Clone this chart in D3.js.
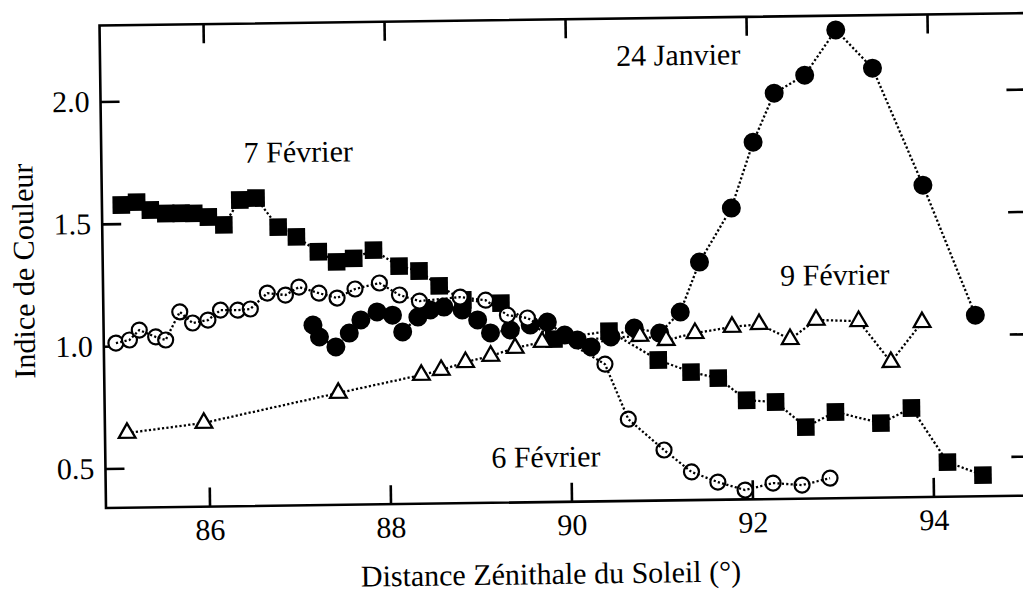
<!DOCTYPE html>
<html>
<head>
<meta charset="utf-8">
<script src="https://cdn.jsdelivr.net/npm/d3@7"></script>
<style>
  html, body { margin: 0; padding: 0; background: #fff; }
  svg { display: block; }
</style>
</head>
<body>
<svg id="chart" width="1023" height="600"></svg>
<script>
// Indice de couleur en fonction de la distance zénithale du Soleil

// 24 janvier : cercles pleins
const jan24 = [
  [87.17, 1.075], [87.24, 1.026], [87.42, 0.984], [87.57, 1.040], [87.70, 1.093],
  [87.88, 1.125], [88.05, 1.111], [88.16, 1.042], [88.33, 1.102], [88.47, 1.130],
  [88.62, 1.141], [88.82, 1.128], [88.99, 1.087], [89.13, 1.033], [89.35, 1.044],
  [89.57, 1.063], [89.76, 1.074], [89.95, 1.020], [90.09, 0.999], [90.24, 0.970],
  [90.46, 1.010], [90.72, 1.045], [91.00, 1.023], [91.23, 1.108], [91.45, 1.311],
  [91.81, 1.530], [92.06, 1.798], [92.30, 1.997], [92.64, 2.069], [92.99, 2.252],
  [93.39, 2.094], [93.93, 1.613], [94.49, 1.079]
];

// 7 février : carrés pleins
const feb7 = [
  [85.07, 1.576], [85.24, 1.587], [85.39, 1.554], [85.56, 1.539], [85.73, 1.539],
  [85.87, 1.538], [86.03, 1.522], [86.20, 1.489], [86.38, 1.590], [86.56, 1.597],
  [86.80, 1.477], [87.00, 1.436], [87.24, 1.374], [87.44, 1.332], [87.63, 1.345],
  [87.85, 1.378], [88.13, 1.311], [88.35, 1.290], [88.57, 1.228], [88.83, 1.169],
  [89.25, 1.154], [89.83, 1.004], [90.44, 1.034], [90.98, 0.913], [91.34, 0.862],
  [91.64, 0.836], [91.95, 0.744], [92.27, 0.735], [92.60, 0.631], [92.93, 0.691],
  [93.43, 0.643], [93.77, 0.703], [94.16, 0.480], [94.55, 0.425]
];

// 6 février : cercles ouverts
const feb6 = [
  [84.99, 1.012], [85.14, 1.024], [85.25, 1.064], [85.43, 1.035], [85.54, 1.022],
  [85.70, 1.136], [85.84, 1.090], [86.01, 1.101], [86.15, 1.141], [86.34, 1.140],
  [86.48, 1.144], [86.67, 1.208], [86.87, 1.199], [87.02, 1.231], [87.24, 1.205],
  [87.44, 1.184], [87.64, 1.220], [87.91, 1.243], [88.13, 1.193], [88.35, 1.167],
  [88.80, 1.181], [89.08, 1.167], [89.32, 1.105], [89.54, 1.092], [90.39, 0.899],
  [90.64, 0.673], [91.03, 0.545], [91.33, 0.454], [91.62, 0.411], [91.92, 0.377],
  [92.23, 0.404], [92.55, 0.394], [92.86, 0.421]
];

// 9 février : triangles ouverts
const feb9 = [
  [85.10, 0.644], [85.95, 0.681], [87.44, 0.796], [88.36, 0.865], [88.58, 0.884],
  [88.85, 0.915], [89.13, 0.939], [89.40, 0.970], [89.70, 0.993], [90.78, 1.012],
  [91.07, 0.994], [91.39, 1.021], [91.80, 1.044], [92.10, 1.054], [92.44, 0.991],
  [92.73, 1.068], [93.20, 1.061], [93.55, 0.892], [93.90, 1.053]
];

const xTicks = [86, 88, 90, 92, 94];
const yTicks = [0.5, 1.0, 1.5, 2.0];
const xTitle = "Distance Zénithale du Soleil (°)";
const yTitle = "Indice de Couleur";

// étiquettes des séries : [texte, x, y] en unités des axes
const seriesLabels = [
  ["24 Janvier", 90.56, 2.117],
  ["7 Février", 86.43, 1.742],
  ["9 Février", 92.34, 1.210],
  ["6 Février", 89.12, 0.482]
];

const serif = "'Liberation Serif'";
const svg = d3.select("#chart");
const mLeft = 106, mRight = 1031, mTop = 25.5, mBottom = 508;
const tickLen = 19;
const fs = "30px";

const x = d3.scaleLinear().domain([84.856, 95.077]).range([mLeft, mRight]);
const y = d3.scaleLinear().domain([0.3387, 2.3105]).range([mBottom, mTop]);

// toute la figure est légèrement inclinée
const g = svg.append("g").attr("transform", `rotate(-0.77, ${mLeft}, ${mBottom})`);

const styleText = sel => sel.style("font-family", serif).style("font-size", fs).attr("fill", "#000");

// axes
const axisStyle = sel => {
  sel.attr("font-family", null).attr("font-size", null);
  sel.select(".domain").remove();
  sel.selectAll(".tick line").attr("stroke", "#000").attr("stroke-width", 2.6);
  sel.selectAll(".tick text").call(styleText);
};

g.append("g").attr("transform", `translate(0,${mBottom})`)
  .call(d3.axisBottom(x).tickValues(xTicks).tickSize(-tickLen).tickPadding(12).tickFormat(d3.format(".0f")))
  .call(axisStyle);
g.append("g").attr("transform", `translate(0,${mTop})`)
  .call(d3.axisTop(x).tickValues(xTicks).tickSize(-tickLen).tickFormat(""))
  .call(axisStyle);
g.append("g").attr("transform", `translate(${mLeft},0)`)
  .call(d3.axisLeft(y).tickValues(yTicks).tickSize(-tickLen).tickPadding(11).tickFormat(d3.format(".1f")))
  .call(axisStyle);
g.append("g").attr("transform", `translate(${mRight},0)`)
  .call(d3.axisRight(y).tickValues(yTicks).tickSize(-tickLen).tickFormat(""))
  .call(axisStyle);

g.append("rect")
  .attr("x", mLeft).attr("y", mTop)
  .attr("width", mRight - mLeft).attr("height", mBottom - mTop)
  .attr("fill", "none").attr("stroke", "#000").attr("stroke-width", 2.6);

// tracés pointillés
const line = d3.line().x(d => x(d[0])).y(d => y(d[1]));
const dotted = (data) => g.append("path")
  .attr("d", line(data))
  .attr("fill", "none").attr("stroke", "#000")
  .attr("stroke-width", 2.3).attr("stroke-dasharray", "2.2 2.2");

// 7 février
dotted(feb7);
g.append("g").selectAll("path").data(feb7).join("path")
  .attr("transform", d => `translate(${x(d[0])},${y(d[1])})`)
  .attr("d", d3.symbol(d3.symbolSquare, 310))
  .attr("fill", "#000");

// 24 janvier
dotted(jan24);
g.append("g").selectAll("circle").data(jan24).join("circle")
  .attr("cx", d => x(d[0])).attr("cy", d => y(d[1]))
  .attr("r", 9.5).attr("fill", "#000");

// 9 février
dotted(feb9);
g.append("g").selectAll("path").data(feb9).join("path")
  .attr("transform", d => `translate(${x(d[0])},${y(d[1])})`)
  .attr("d", d3.symbol(d3.symbolTriangle, 120))
  .attr("fill", "#fff").attr("stroke", "#000").attr("stroke-width", 2.3);

// 6 février
g.append("g").selectAll("circle").data(feb6).join("circle")
  .attr("cx", d => x(d[0])).attr("cy", d => y(d[1]))
  .attr("r", 7.5).attr("fill", "#fff").attr("stroke", "#000").attr("stroke-width", 2.2);
dotted(feb6);

// étiquettes
g.append("g").selectAll("text").data(seriesLabels).join("text")
  .attr("x", d => x(d[1])).attr("y", d => y(d[2]))
  .call(styleText)
  .text(d => d[0]);

// titres des axes
g.append("text")
  .attr("x", 550).attr("y", 590)
  .attr("text-anchor", "middle").call(styleText)
  .text(xTitle);
g.append("text")
  .attr("transform", "translate(37,270) rotate(-90)")
  .attr("text-anchor", "middle").call(styleText)
  .text(yTitle);
</script>
</body>
</html>
